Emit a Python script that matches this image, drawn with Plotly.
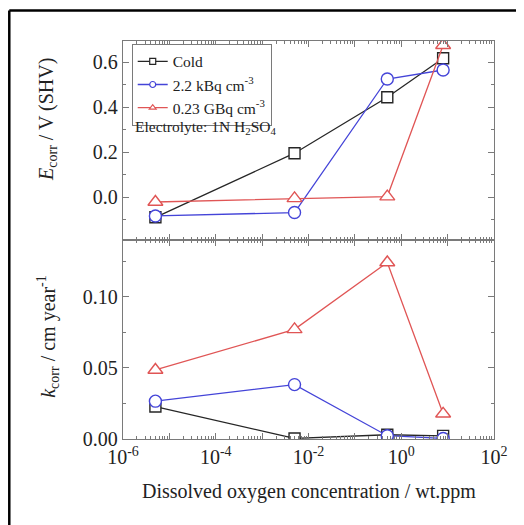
import plotly.graph_objects as go

# ---------------- data ----------------
oxygen_ppm = [5e-6, 5e-3, 0.5, 8.0]

ecorr_cold = [-0.089, 0.196, 0.445, 0.618]
ecorr_kbq = [-0.083, -0.068, 0.526, 0.566]
ecorr_gbq = [-0.021, -0.005, 0.003, 0.676]

kcorr_cold = [0.0228, 0.0004, 0.0030, 0.0022]
kcorr_kbq = [0.0266, 0.0382, 0.0023, 0.0004]
kcorr_gbq = [0.0485, 0.0770, 0.1240, 0.0177]

series_names = ["Cold", "2.2 kBq cm<sup>-3</sup>", "0.23 GBq cm<sup>-3</sup>"]

x_tick_vals = [1e-6, 1e-5, 1e-4, 1e-3, 1e-2, 1e-1, 1e0, 1e1, 1e2]
x_tick_text = ["10<sup>-6</sup>", "", "10<sup>-4</sup>", "", "10<sup>-2</sup>", "",
               "10<sup>0</sup>", "", "10<sup>2</sup>"]
x_minor_vals = [m * 10.0 ** e for e in range(-6, 2) for m in range(2, 10)]

e_tick_vals = [0.0, 0.2, 0.4, 0.6]
e_tick_text = ["0.0", "0.2", "0.4", "0.6"]
e_minor_vals = [-0.1, 0.1, 0.3, 0.5]

k_tick_vals = [0.0, 0.05, 0.10]
k_tick_text = ["0.00", "0.05", "0.10"]
k_minor_vals = [0.025, 0.075, 0.125]

# ---------------- styles ----------------
FONT = "Liberation Serif"
AX = "#7a7a7a"
colors = ["#262626", "#4444d8", "#e05555"]
symbols = ["square", "circle", "triangle-up"]
sizes = [11, 12, 13]

fig = go.Figure()

top_series = [ecorr_cold, ecorr_kbq, ecorr_gbq]
bot_series = [kcorr_cold, kcorr_kbq, kcorr_gbq]

for i in range(3):
    for ys, xa, ya in ((top_series[i], "x", "y"), (bot_series[i], "x2", "y2")):
        fig.add_trace(go.Scatter(
            x=oxygen_ppm, y=ys, mode="lines+markers",
            line=dict(color=colors[i], width=1.3),
            marker=dict(symbol=symbols[i], size=sizes[i], color="white",
                        line=dict(color=colors[i], width=1.4)),
            xaxis=xa, yaxis=ya, showlegend=False))

# legend entries (small markers as in the original)
for i in range(3):
    fig.add_trace(go.Scatter(
        x=[None], y=[None], mode="lines+markers", name=series_names[i],
        line=dict(color=colors[i], width=1.3),
        marker=dict(symbol=symbols[i], size=6, color="white",
                    line=dict(color=colors[i], width=1.2)),
        xaxis="x", yaxis="y", showlegend=True))

xcommon = dict(type="log", range=[-6, 2], showline=True, linecolor=AX, linewidth=1.3,
               mirror="ticks", ticks="inside", ticklen=6, tickcolor=AX, tickwidth=1.2,
               tickmode="array", tickvals=x_tick_vals, ticktext=x_tick_text,
               showgrid=False, zeroline=False,
               minor=dict(tickmode="array", tickvals=x_minor_vals, ticks="inside",
                          ticklen=3, tickcolor=AX, tickwidth=1, showgrid=False),
               tickfont=dict(family=FONT, size=20, color="#222"))

ycommon = dict(showline=True, linecolor=AX, linewidth=1.3, mirror="ticks",
               ticks="inside", ticklen=6, tickcolor=AX, tickwidth=1.2,
               showgrid=False, zeroline=False, tickmode="array",
               tickfont=dict(family=FONT, size=20, color="#222"))

fig.update_layout(
    width=516, height=517,
    margin=dict(l=115, r=30, t=33, b=86),
    paper_bgcolor="white", plot_bgcolor="white",
    font=dict(family=FONT, size=16, color="#222"),
    xaxis=dict(**xcommon, domain=[0, 1], anchor="y", showticklabels=False),
    xaxis2=dict(**xcommon, domain=[0, 1], anchor="y2", showticklabels=True),
    yaxis=dict(**ycommon, domain=[0.5, 1], anchor="x", range=[-0.19, 0.695],
               tickvals=e_tick_vals, ticktext=e_tick_text,
               minor=dict(tickmode="array", tickvals=e_minor_vals, ticks="inside",
                          ticklen=3, tickcolor=AX, tickwidth=1, showgrid=False)),
    yaxis2=dict(**ycommon, domain=[0, 0.5], anchor="x2", range=[0, 0.1398],
                tickvals=k_tick_vals, ticktext=k_tick_text,
                minor=dict(tickmode="array", tickvals=k_minor_vals, ticks="inside",
                           ticklen=3, tickcolor=AX, tickwidth=1, showgrid=False)),
    legend=dict(x=0.0235, y=0.993, xanchor="left", yanchor="top",
                bgcolor="white", bordercolor=AX, borderwidth=1,
                font=dict(family=FONT, size=15.5, color="#222"),
                tracegroupgap=0, itemwidth=30),
    showlegend=True,
)

annotations = [
    dict(text="Electrolyte: 1N H<sub>2</sub>SO<sub>4</sub>", x=0.028, y=0.783,
         xref="paper", yref="paper", xanchor="left", yanchor="middle",
         showarrow=False, font=dict(family=FONT, size=15.5, color="#222")),
    dict(text="<i>E</i><sub>corr</sub> / V (SHV)", x=-0.205, y=0.804,
         xref="paper", yref="paper", xanchor="center", yanchor="middle",
         textangle=-90, showarrow=False, font=dict(family=FONT, size=20, color="#222")),
    dict(text="<i>k</i><sub>corr</sub> / cm year<sup>-1</sup>", x=-0.202, y=0.257,
         xref="paper", yref="paper", xanchor="center", yanchor="middle",
         textangle=-90, showarrow=False, font=dict(family=FONT, size=20, color="#222")),
    dict(text="Dissolved oxygen concentration / wt.ppm", x=0.5, y=-0.132,
         xref="paper", yref="paper", xanchor="center", yanchor="middle",
         showarrow=False, font=dict(family=FONT, size=20, color="#222")),
]
fig.update_layout(annotations=annotations)

# outer frame (left and top edges visible in the original crop)
fig.add_shape(type="line", xref="paper", yref="paper",
              x0=-0.3065, x1=-0.3065, y0=-0.25, y1=1.0766,
              line=dict(color="black", width=2.5))
fig.add_shape(type="line", xref="paper", yref="paper",
              x0=-0.3065, x1=1.1, y0=1.0766, y1=1.0766,
              line=dict(color="black", width=2.5))

fig.write_html("out.html")
